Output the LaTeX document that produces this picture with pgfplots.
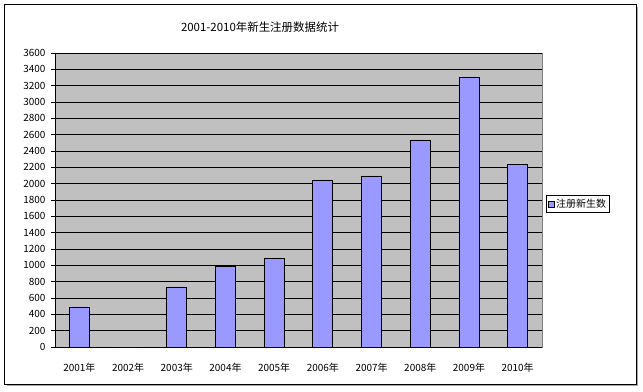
\documentclass[border=0pt]{standalone}
\usepackage{pgfplots}
\pgfplotsset{compat=1.18}
\usepackage{fontspec}
\setmainfont{Noto Sans CJK SC}
\definecolor{barfill}{HTML}{9999FF}
\definecolor{plotbg}{HTML}{C0C0C0}
\begin{document}
\begin{tikzpicture}[x=1bp,y=1bp]
\path (0,0) rectangle (643,391);
\draw[gray!70, line width=1.2bp] (7,5.5) -- (637.5,5.5) -- (637.5,384);
\draw[black, line width=0.8bp] (4,7) rectangle (636,387);
\begin{axis}[
  at={(55bp,44bp)}, anchor=south west,
  scale only axis, width=487bp, height=294bp,
  ybar, bar width=20bp,
  ymin=0, ymax=3600, ytick distance=200,
  xmin=-0.5, xmax=9.5,
  xtick={0,...,9},
  xticklabels={2001年,2002年,2003年,2004年,2005年,2006年,2007年,2008年,2009年,2010年},
  major x tick style={draw=none},
  extra x ticks={-0.5,0.5,1.5,2.5,3.5,4.5,5.5,6.5,7.5,8.5,9.5},
  extra x tick labels={},
  extra x tick style={major tick style={draw=black}, tick align=inside, major tick length=4bp, xmajorgrids=false},
  axis x line*=bottom, axis y line*=left,
  axis line style={black, line width=0.8bp, -},
  axis background/.style={fill=plotbg, draw=gray},
  ymajorgrids, major grid style={black, line width=0.8bp},
  ytick pos=left, xtick pos=bottom,
  y tick style={black, line width=0.8bp}, tick align=outside, major tick length=4bp,
  tick label style={font=\fontsize{10}{12}\selectfont},
  /pgf/number format/assume math mode=true,
  /pgf/number format/1000 sep={},
  xticklabel style={yshift=-9bp},
  yticklabel style={xshift=-2bp},
  legend style={at={(1.008,0.517)}, anchor=north west, draw=black, line width=0.6bp,
    font=\fontsize{10}{12}\selectfont, inner sep=1.5bp, legend cell align=left},
  legend image code/.code={\draw[fill=barfill, draw=black, line width=0.5bp] (0bp,-3bp) rectangle (6bp,3bp);},
]
\addplot[fill=barfill, draw=black, line width=0.8bp] coordinates {
(0,490) (1,0) (2,735) (3,990) (4,1090) (5,2045) (6,2095) (7,2535) (8,3305) (9,2230)};
\addlegendentry{注册新生数}
\end{axis}
\node[font=\fontsize{11.5}{13}\selectfont] at (260,364) {2001-2010年新生注册数据统计};
\end{tikzpicture}
\end{document}
